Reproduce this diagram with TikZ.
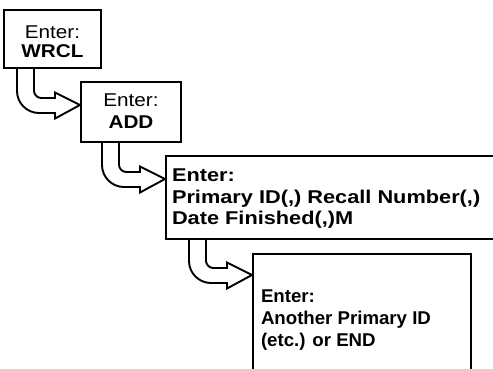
\documentclass[tikz,border=0pt]{standalone}
\usepackage{fontspec}
\usepackage{graphicx}
\setmainfont{Liberation Sans}[FakeStretch=1.12]
\usetikzlibrary{calc}
\tikzset{
  box/.style={draw, line width=1.5pt, rectangle, anchor=north west, inner sep=0pt, outer sep=0pt},
  txt/.style={inner sep=0pt, outer sep=0pt, font=\fontsize{18.5}{22}\selectfont},
  blockarr/.style={draw, line width=1.9pt, line join=miter}
}
\newcommand\wideline[1]{\scalebox{1.05}[1]{\bfseries #1}}
\newcommand\narrowline[1]{\scalebox{0.9}[1]{\bfseries #1}}
\newcommand\uarrow[3]{%
\draw[blockarr] let \p1=($(#2.north west)+(-1,#3)$), \p2=(#1.south) in
({\x1-63pt},\y2) -- ({\x1-63pt},{\y1+14pt})
 .. controls ({\x1-63pt},{\y1+1.9pt}) and ({\x1-53.1pt},{\y1-8pt}) .. ({\x1-41pt},{\y1-8pt})
 -- ({\x1-25pt},{\y1-8pt}) -- ({\x1-25pt},{\y1-13.5pt}) -- (\x1,\y1)
 -- ({\x1-25pt},{\y1+12.5pt}) -- ({\x1-25pt},{\y1+7pt}) -- ({\x1-39pt},{\y1+7pt})
 .. controls ({\x1-42.9pt},{\y1+7pt}) and ({\x1-46pt},{\y1+10.9pt}) .. ({\x1-46pt},{\y1+14pt})
 -- ({\x1-46pt},\y2);}
\begin{document}
\begin{tikzpicture}[x=1pt,y=-1pt]
\useasboundingbox[fill=white] (0,0) rectangle (493,368);
% boxes
\node[box, minimum width=97pt, minimum height=58pt] (b1) at (4,10) {};
\node[box, minimum width=100pt, minimum height=60pt] (b2) at (81,82) {};
\node[box, minimum width=340pt, minimum height=83pt] (b3) at (166,156) {};
\node[box, minimum width=218pt, minimum height=130pt] (b4) at (253,254) {};
% texts
\node[txt, anchor=base] (t1a) at (52.5,38) {Enter:};
\node[txt, anchor=base] (t1b) at (52.5,57) {\bfseries WRCL};
\node[txt, anchor=base] (t2a) at (131,106) {Enter:};
\node[txt, anchor=base] (t2b) at (131,128) {\bfseries ADD};
\node[txt, anchor=base west] (t3a) at (172,181) {\wideline{Enter:}};
\node[txt, anchor=base west] (t3b) at (172,203) {\wideline{Primary ID(,) Recall Number(,)}};
\node[txt, anchor=base west] (t3c) at (172,224) {\wideline{Date Finished(,)M}};
\node[txt, anchor=base west] (t4a) at (261,302) {\narrowline{Enter:}};
\node[txt, anchor=base west] (t4b) at (261,324) {\narrowline{Another Primary ID}};
\node[txt, anchor=base west] (t4c) at (261,346) {\narrowline{(etc.) or END}};
% arrows
\uarrow{b1}{b2}{23}
\uarrow{b2}{b3}{23}
\uarrow{b3}{b4}{21}
\end{tikzpicture}
\end{document}
